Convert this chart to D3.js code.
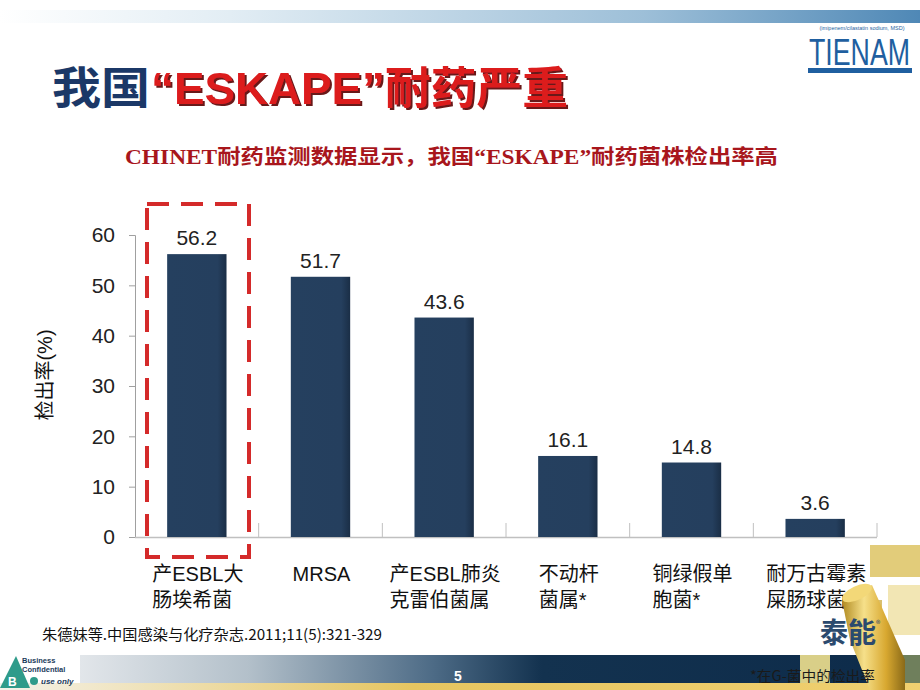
<!DOCTYPE html>
<html><head><meta charset="utf-8">
<script src="https://cdn.jsdelivr.net/npm/d3@7"></script>
<style>
html,body{margin:0;padding:0;background:#fff;}
svg{display:block;}
</style></head>
<body>
<script>
const categories = [["产ESBL大","肠埃希菌"],["MRSA"],["产ESBL肺炎","克雷伯菌属"],["不动杆","菌属*"],["铜绿假单","胞菌*"],["耐万古霉素","屎肠球菌"]];
const values = [56.2, 51.7, 43.6, 16.1, 14.8, 3.6];
const valueLabels = ["56.2","51.7","43.6","16.1","14.8","3.6"];
const yTicks = [0,10,20,30,40,50,60];
const titleParts = ["我国", "“ESKAPE”", "耐药严重"];
const subtitle = "CHINET耐药监测数据显示，我国“ESKAPE”耐药菌株检出率高";
const yLabel = "检出率(%)";
const citation = "朱德妹等.中国感染与化疗杂志.2011;11(5):321-329";
const pageNum = "5";
const footnote = "*在G-菌中的检出率";

const W = 920, H = 690;
const svg = d3.select("body").append("svg").attr("width", W).attr("height", H);
const defs = svg.append("defs");

// gradients
const gTop = defs.append("linearGradient").attr("id","gTop").attr("x1","0").attr("x2","1");
gTop.append("stop").attr("offset","0").attr("stop-color","#ffffff");
gTop.append("stop").attr("offset","0.25").attr("stop-color","#e2edf4");
gTop.append("stop").attr("offset","0.7").attr("stop-color","#9dbfd8");
gTop.append("stop").attr("offset","1").attr("stop-color","#4f88b6");
const gBot = defs.append("linearGradient").attr("id","gBot").attr("x1","0").attr("x2","1");
gBot.append("stop").attr("offset","0").attr("stop-color","#e2e6ea");
gBot.append("stop").attr("offset","0.2").attr("stop-color","#b3c0ca");
gBot.append("stop").attr("offset","0.42").attr("stop-color","#4d6b86");
gBot.append("stop").attr("offset","0.55").attr("stop-color","#13324f");
gBot.append("stop").attr("offset","1").attr("stop-color","#0d2b4a");
const gGold = defs.append("linearGradient").attr("id","gGold").attr("x1","0").attr("x2","1");
gGold.append("stop").attr("offset","0").attr("stop-color","#f4f2ea");
gGold.append("stop").attr("offset","0.45").attr("stop-color","#e6c560");
gGold.append("stop").attr("offset","1").attr("stop-color","#f0d070");
const gBar = defs.append("linearGradient").attr("id","gBar").attr("x1","0").attr("x2","1");
gBar.append("stop").attr("offset","0").attr("stop-color","#25405f");
gBar.append("stop").attr("offset","0.85").attr("stop-color","#253f5e");
gBar.append("stop").attr("offset","1").attr("stop-color","#1a2e46");
const gBottle = defs.append("linearGradient").attr("id","gBottle").attr("x1","0").attr("x2","1");
gBottle.append("stop").attr("offset","0").attr("stop-color","#b08a20");
gBottle.append("stop").attr("offset","0.35").attr("stop-color","#f6e08a");
gBottle.append("stop").attr("offset","0.7").attr("stop-color","#d8a830");
gBottle.append("stop").attr("offset","1").attr("stop-color","#8a6a18");
const shadow = defs.append("filter").attr("id","shadow").attr("x","-5%").attr("y","-10%").attr("width","110%").attr("height","130%");
shadow.append("feDropShadow").attr("dx",2).attr("dy",2).attr("stdDeviation",0.6).attr("flood-color","#5a0606").attr("flood-opacity",0.9);

// top band
svg.append("rect").attr("x",0).attr("y",10).attr("width",W).attr("height",13).attr("fill","url(#gTop)");

// TIENAM logo
const logo = svg.append("g");
logo.append("text").attr("x",862).attr("y",30).attr("text-anchor","middle")
  .attr("font-family","Liberation Sans Narrow, Arial").attr("font-size",5.5).attr("fill","#1f5fa0")
  .text("(imipenem/cilastatin sodium, MSD)");
logo.append("text").attr("transform","translate(809,65) scale(1,1.35)").attr("x",0).attr("y",0)
  .attr("textLength",101).attr("lengthAdjust","spacingAndGlyphs")
  .attr("font-family","Liberation Sans Narrow, Arial").attr("font-size",27).attr("fill","#1f5fa0")
  .text("TIENAM");
logo.append("rect").attr("x",808).attr("y",68).attr("width",104).attr("height",5).attr("fill","#1f5fa0");

// title
svg.append("text").attr("x",52).attr("y",104).attr("textLength",98).attr("lengthAdjust","spacingAndGlyphs")
  .attr("font-family","Noto Sans CJK SC").attr("font-weight","bold").attr("font-size",44).attr("fill","#1b3867").text(titleParts[0]);
const tRed = svg.append("text").attr("x",151).attr("y",104).attr("textLength",417).attr("lengthAdjust","spacingAndGlyphs")
  .attr("font-weight","bold").attr("font-size",44).attr("fill","#dc1a1e").attr("filter","url(#shadow)");
tRed.append("tspan").attr("font-family","Liberation Sans, Arial").text(titleParts[1]);
tRed.append("tspan").attr("font-family","Noto Sans CJK SC").text(titleParts[2]);

// subtitle
svg.append("text").attr("x",125).attr("y",164).attr("textLength",653).attr("lengthAdjust","spacingAndGlyphs")
  .attr("font-family","Liberation Serif, Noto Sans CJK SC").attr("font-weight","bold").attr("font-size",20)
  .attr("fill","#a8161c").text(subtitle);

// chart
const x0 = 135, x1 = 877, yBase = 537, yTop = 235;
const x = d3.scaleBand().domain(d3.range(values.length)).range([x0,x1]).paddingInner(0.52).paddingOuter(0.26);
const y = d3.scaleLinear().domain([0,60]).range([yBase,yTop]);

// y axis
const yAxis = d3.axisLeft(y).tickValues(yTicks).tickSize(6).tickPadding(14);
const ga = svg.append("g").attr("transform",`translate(${x0},0)`).call(yAxis);
ga.select(".domain").attr("stroke","#a0a0a0");
ga.selectAll(".tick line").attr("stroke","#a0a0a0");
ga.selectAll(".tick text").attr("font-family","Liberation Sans, Arial").attr("font-size",21).attr("fill","#222");

// x axis baseline with inner ticks between categories
const step = x.step();
const xb = svg.append("g");
xb.append("line").attr("x1",x0).attr("x2",x1).attr("y1",yBase+0.5).attr("y2",yBase+0.5).attr("stroke","#c0c0c0").attr("stroke-width",1.5);
xb.selectAll("line.t").data(d3.range(1,values.length+1)).join("line").attr("class","t")
  .attr("x1",i=>x(i-1)+x.bandwidth()+ (step-x.bandwidth())/2).attr("x2",i=>x(i-1)+x.bandwidth()+(step-x.bandwidth())/2)
  .attr("y1",yBase-14).attr("y2",yBase).attr("stroke","#c0c0c0");

// bars
svg.append("g").selectAll("rect").data(values).join("rect")
  .attr("x",(d,i)=>x(i)).attr("width",x.bandwidth())
  .attr("y",d=>y(d)).attr("height",d=>yBase-y(d)).attr("fill","url(#gBar)");

// value labels
svg.append("g").selectAll("text").data(values).join("text")
  .attr("x",(d,i)=>x(i)+x.bandwidth()/2).attr("y",d=>y(d)-9).attr("text-anchor","middle")
  .attr("font-family","Liberation Sans, Arial").attr("font-size",21).attr("fill","#222")
  .text((d,i)=>valueLabels[i]);

// category labels (left aligned block centered on bar)
categories.forEach((lines,i)=>{
  const g = svg.append("g");
  const ts = lines.map((l,j)=>g.append("text").attr("x",0).attr("y",581+j*26)
    .attr("font-family","Liberation Sans, Noto Sans CJK SC").attr("font-size",20).attr("fill","#111").text(l));
  const w = d3.max(ts,t=>t.node().getComputedTextLength());
  g.attr("transform",`translate(${x(i)+x.bandwidth()/2 - w/2 + 1},0)`);
});

// y label
svg.append("text").attr("transform","translate(52,375) rotate(-90)").attr("text-anchor","middle")
  .attr("font-family","Liberation Sans, Noto Sans CJK SC").attr("font-size",20).attr("fill","#111").text(yLabel);

// dashed highlight
svg.append("rect").attr("x",147).attr("y",204).attr("width",102).attr("height",353)
  .attr("fill","none").attr("stroke","#d42a2a").attr("stroke-width",4).attr("stroke-dasharray","22,12");

// citation
svg.append("text").attr("x",42).attr("y",640).attr("textLength",340).attr("lengthAdjust","spacingAndGlyphs")
  .attr("font-family","Liberation Sans Narrow, Noto Sans CJK SC").attr("font-size",15).attr("fill","#111").text(citation);

// right decoration squares
const deco = svg.append("g");
deco.append("rect").attr("x",870).attr("y",545).attr("width",50).attr("height",32).attr("fill","#e2cc7a");
deco.append("rect").attr("x",888).attr("y",585).attr("width",32).attr("height",50).attr("fill","#f2e6b4");
deco.append("rect").attr("x",852).attr("y",600).attr("width",30).attr("height",40).attr("fill","#d9c070");

// bottom band
svg.append("rect").attr("x",80).attr("y",655).attr("width",840).attr("height",28).attr("fill","url(#gBot)");
svg.append("rect").attr("x",800).attr("y",655).attr("width",30).attr("height",28).attr("fill","#d9cf88");
svg.append("rect").attr("x",880).attr("y",655).attr("width",40).attr("height",28).attr("fill","#6f7f5c");
svg.append("rect").attr("x",0).attr("y",683).attr("width",W).attr("height",7).attr("fill","url(#gGold)");

// bottle
svg.append("path").attr("d","M842,600 L872,585 L905,660 L905,690 L870,690 L850,640 Z").attr("fill","url(#gBottle)");
svg.append("ellipse").attr("cx",857).attr("cy",593).attr("rx",16).attr("ry",7).attr("transform","rotate(-25,857,593)").attr("fill","#f3d878");

// 泰能
const tn = svg.append("text").attr("x",820).attr("y",643).attr("font-family","Noto Sans CJK SC").attr("font-weight","bold")
  .attr("font-size",28).attr("fill","#2b4a6e");
tn.append("tspan").text("泰能");
tn.append("tspan").attr("font-size",9).attr("dy",-16).attr("font-weight","normal").text("®");

// business confidential logo
const bc = svg.append("g");
bc.append("path").attr("d","M0,688 L16,656 L30,688 Z").attr("fill","#2f9b8a");
bc.append("text").attr("x",8).attr("y",686).attr("font-family","Liberation Sans").attr("font-weight","bold").attr("font-size",12).attr("fill","#fff").text("B");
bc.append("text").attr("x",22).attr("y",663).attr("font-family","Liberation Sans").attr("font-weight","bold").attr("font-size",7.5).attr("fill","#1a3a5a").text("Business");
bc.append("text").attr("x",22).attr("y",672).attr("font-family","Liberation Sans").attr("font-weight","bold").attr("font-size",7.5).attr("fill","#1a3a5a").text("Confidential");
bc.append("circle").attr("cx",34).attr("cy",681).attr("r",4).attr("fill","#2f9b8a");
bc.append("text").attr("x",41).attr("y",684).attr("font-family","Liberation Sans").attr("font-style","italic").attr("font-weight","bold").attr("font-size",8).attr("fill","#1a3a5a").text("use only");

// page number and footnote
svg.append("text").attr("x",458).attr("y",681).attr("text-anchor","middle").attr("font-family","Liberation Sans Narrow, Arial")
  .attr("font-weight","bold").attr("font-size",14).attr("fill","#fff").text(pageNum);
svg.append("text").attr("x",750).attr("y",681).attr("textLength",125).attr("lengthAdjust","spacingAndGlyphs")
  .attr("font-family","Noto Sans CJK SC").attr("font-size",14).attr("fill","#1a1a1a").text(footnote);
</script>
</body></html>
